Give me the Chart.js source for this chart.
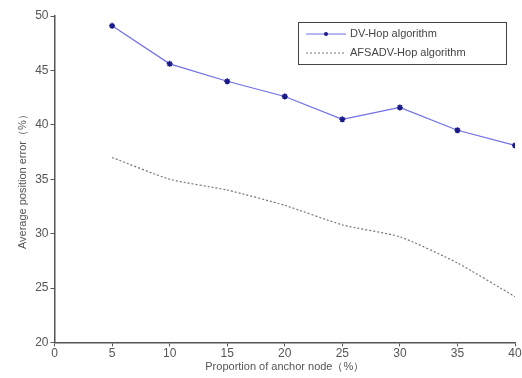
<!DOCTYPE html>
<html>
<head>
<meta charset="utf-8">
<script src="https://cdn.jsdelivr.net/npm/chart.js@4"></script>
<style>
  html, body { margin: 0; padding: 0; background: #fff; }
  #wrap { width: 522px; height: 378px; }
</style>
</head>
<body>
<div id="wrap"><canvas id="myChart" width="522" height="378"></canvas></div>
<script>
// datos
const proporcion = [5, 10, 15, 20, 25, 30, 35, 40];
const dvHop = [49.1, 45.6, 44.0, 42.6, 40.5, 41.6, 39.5, 38.1];
const afsaDvHop = [37.0, 35.0, 34.0, 32.6, 30.8, 29.7, 27.3, 24.2];
const nombres = ['DV-Hop algorithm', 'AFSADV-Hop algorithm'];
const tituloX = 'Proportion of anchor node（%）';
const tituloY = 'Average position error（%）';

const gris = '#555';
const fuente = "'Liberation Sans', Arial, sans-serif";

const toXY = (xs, ys) => xs.map((x, i) => ({ x: x, y: ys[i] }));

// leyenda dibujada dentro del área de la gráfica
const leyenda = {
  id: 'leyenda',
  afterDraw(chart) {
    const c = chart.ctx;
    const x0 = 298, y0 = 22, w = 208, h = 42;
    c.save();
    c.fillStyle = '#fff';
    c.fillRect(x0, y0, w, h);
    c.strokeStyle = '#444';
    c.lineWidth = 1;
    c.strokeRect(x0 + 0.5, y0 + 0.5, w, h);
    c.font = '11px ' + fuente;
    c.textBaseline = 'middle';
    // DV-Hop
    c.strokeStyle = '#6f6fe8';
    c.beginPath(); c.moveTo(x0 + 8, 34); c.lineTo(x0 + 48, 34); c.stroke();
    c.fillStyle = '#1a1a8a';
    c.beginPath(); c.arc(x0 + 28, 34, 2, 0, Math.PI * 2); c.fill();
    c.fillStyle = '#444';
    c.fillText(nombres[0], x0 + 52, 34);
    // AFSADV-Hop
    c.strokeStyle = '#777';
    c.setLineDash([2, 2]);
    c.beginPath(); c.moveTo(x0 + 8, 53); c.lineTo(x0 + 48, 53); c.stroke();
    c.setLineDash([]);
    c.fillText(nombres[1], x0 + 52, 53);
    c.restore();
  }
};

const ctx = document.getElementById('myChart').getContext('2d');
const myChart = new Chart(ctx, {
  type: 'line',
  data: {
    datasets: [{
      label: nombres[0],
      data: toXY(proporcion, dvHop),
      borderColor: '#6f6fe8',
      borderWidth: 1.2,
      pointStyle: 'star',
      pointRadius: 3,
      pointBorderColor: '#1a1a8a',
      pointBackgroundColor: '#1a1a8a',
      pointBorderWidth: 1.5,
      tension: 0
    }, {
      label: nombres[1],
      data: toXY(proporcion, afsaDvHop),
      borderColor: '#777',
      borderWidth: 1.2,
      borderDash: [2, 2],
      pointRadius: 0,
      tension: 0.2
    }]
  },
  options: {
    responsive: false,
    animation: false,
    layout: { padding: { top: 16, right: 7, left: 12, bottom: 4 } },
    plugins: {
      legend: { display: false },
      tooltip: { enabled: false }
    },
    scales: {
      x: {
        type: 'linear',
        min: 0, max: 40,
        ticks: { stepSize: 5, color: gris, font: { family: fuente, size: 12 }, padding: 0 },
        grid: { drawOnChartArea: false, tickLength: 4, color: gris },
        border: { color: gris, width: 1.5 },
        title: { display: true, text: tituloX, color: gris, font: { family: fuente, size: 11 }, padding: 0 }
      },
      y: {
        min: 20, max: 50,
        ticks: { stepSize: 5, color: gris, font: { family: fuente, size: 12 }, padding: 2 },
        grid: { drawOnChartArea: false, tickLength: 4, color: gris },
        border: { color: gris, width: 1.5 },
        title: { display: true, text: tituloY, color: gris, font: { family: fuente, size: 11 }, padding: 4 }
      }
    }
  },
  plugins: [leyenda]
});
</script>
</body>
</html>
